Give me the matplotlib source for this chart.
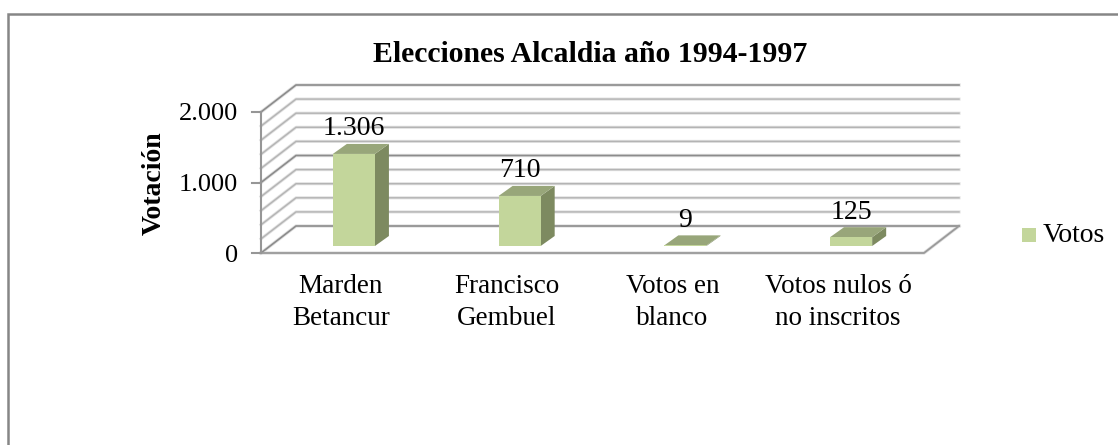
"""Elecciones Alcaldia 1994-1997, fake 3D column chart."""
import matplotlib
matplotlib.use("Agg")
import matplotlib.pyplot as plt
from matplotlib.patches import Polygon, Rectangle
from matplotlib.transforms import Affine2D

categories = ["Marden\nBetancur", "Francisco\nGembuel", "Votos en\nblanco", "Votos nulos ó\nno inscritos"]
votos = [1306, 710, 9, 125]
value_labels = ["1.306", "710", "9", "125"]
y_ticks = [0, 1000, 2000]
y_tick_labels = ["0", "1.000", "2.000"]
minor_ticks = [200, 400, 600, 800, 1200, 1400, 1600, 1800]
series_name = "Votos"
title = "Elecciones Alcaldia año 1994-1997"
y_label = "Votación"

W, H = 1118, 445
FRONT = "#c3d69b"
TOP = "#98a67a"
SIDE = "#7d8a60"

plt.rcParams["font.family"] = ["Liberation Serif", "DejaVu Serif"]
fig = plt.figure(figsize=(W / 100, H / 100), dpi=100, facecolor="white")

# frame around the chart, only left and top are in the picture
bg = fig.add_axes([0, 0, 1, 1])
bg.set_xlim(0, W); bg.set_ylim(H, 0); bg.axis("off")
bg.plot([8, 8, W], [H, 14, 14], color="#868686", lw=1.8, solid_joinstyle="miter")

# axes = front plane of the box
ax = fig.add_axes([261 / W, (H - 253) / H, (924 - 261) / W, (253 - 112) / H])
ax.set_xlim(-0.5, 3.5)
ax.set_ylim(0, 2000)
ax.axis("off")

def shift(dx, dy):
    return ax.transData + Affine2D().translate(dx, dy)

back = shift(35, 27)
front = ax.transData
inv = ax.transData.inverted()
x0, x1 = ax.get_xlim()

def grid_line(v, color, lw):
    q = inv.transform([front.transform((x0, v)), back.transform((x0, v)), back.transform((x1, v))])
    ax.plot(q[:, 0], q[:, 1], color="#e0e0e0", lw=lw + 1.2, clip_on=False, zorder=1)
    ax.plot(q[:, 0], q[:, 1], color=color, lw=lw, clip_on=False, zorder=1.1)

for v in minor_ticks:
    grid_line(v, "#b4b4b4", 1.0)
for v in y_ticks:
    grid_line(v, "#8c8c8c", 1.2)

# floor outline
floor = inv.transform([front.transform((x0, 0)), front.transform((x1, 0)), back.transform((x1, 0))])
ax.plot(floor[:, 0], floor[:, 1], color="#e0e0e0", lw=2.4, clip_on=False, zorder=1)
ax.plot(floor[:, 0], floor[:, 1], color="#9a9a9a", lw=1.3, clip_on=False, zorder=1.1)

# y axis line and ticks
ax.plot([x0, x0], [0, y_ticks[-1]], color="#969696", lw=1.5, clip_on=False, zorder=1.2)
for v, lab in zip(y_ticks, y_tick_labels):
    p = front.transform((x0, v))
    tk = inv.transform([p + (-9, 0), p])
    ax.plot(tk[:, 0], tk[:, 1], color="#969696", lw=1.5, clip_on=False, zorder=1.2)
    ax.annotate(lab, (x0, v), xytext=(-23, 0), textcoords="offset pixels", ha="right", va="center_baseline",
                fontsize=19, color="black", annotation_clip=False)

# columns
bar_w = 0.254
off_x, off_y = 10, 7
dep_x, dep_y = 14, 10
for i, v in enumerate(votos):
    l, r = i - bar_w / 2, i + bar_w / 2
    a = inv.transform(shift(off_x, off_y).transform([(l, 0), (r, 0), (r, v), (l, v)]))
    b = inv.transform(shift(off_x + dep_x, off_y + dep_y).transform([(l, 0), (r, 0), (r, v), (l, v)]))
    ax.add_patch(Polygon([a[1], b[1], b[2], a[2]], fc=SIDE, ec="none", zorder=3, clip_on=False))
    ax.add_patch(Polygon([a[3], a[2], b[2], b[3]], fc=TOP, ec="none", zorder=3, clip_on=False))
    ax.add_patch(Polygon(a, fc=FRONT, ec="none", zorder=4, clip_on=False))
    ax.annotate(value_labels[i], (i, v), xytext=(off_x, off_y + 18.5), textcoords="offset pixels",
                ha="center", va="baseline", fontsize=20, zorder=5, annotation_clip=False)

# category labels
for i, c in enumerate(categories):
    ax.annotate(c, (i, 0), xytext=(-3, -21), textcoords="offset pixels", ha="center", va="top",
                fontsize=19.5, linespacing=1.35, annotation_clip=False)

fig.text(590 / W, 1 - 55 / H, title, ha="center", va="center", fontsize=21.4, fontweight="bold")
fig.text(154 / W, 1 - 183 / H, y_label, ha="center", va="center", rotation=90, fontsize=20, fontweight="bold")

# legend
bg.add_patch(Rectangle((1022, 228), 14, 14, fc=FRONT, ec="none"))
bg.text(1043, 235, series_name, ha="left", va="center", fontsize=20)

fig.savefig("out.png", dpi=100)
